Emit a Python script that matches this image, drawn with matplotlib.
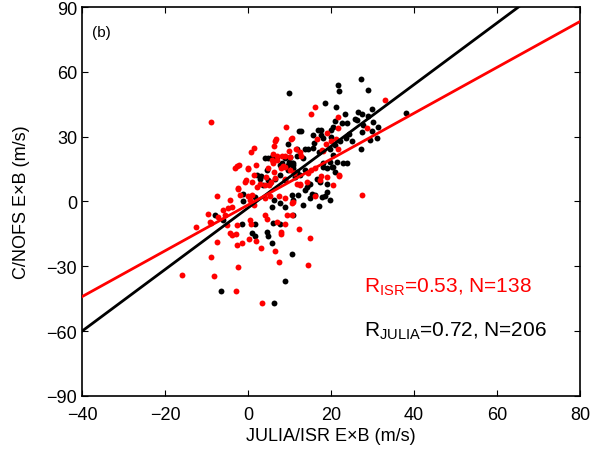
import numpy as np
import matplotlib
matplotlib.use('Agg')
from matplotlib import pyplot as plt

plt.rcParams['font.family'] = ['Liberation Sans', 'DejaVu Sans']
plt.rcParams['mathtext.fontset'] = 'custom'
plt.rcParams['mathtext.rm'] = 'Liberation Sans'

# JULIA points (x = JULIA E×B, y = C/NOFS E×B), m/s
julia = [
    (9.8, 50), (9.7, 26.4), (3.2, 11.7), (3.0, 10.2), (4.0, 19.9), (4.8, 19.9), (6.9, 20.7),
    (4.7, 14.5), (4.8, 10.0), (7.7, 16.8), (11.7, 24.5), (12.4, 32.7), (9.8, 18.4), (10.9, 17.6),
    (9.7, 14.5), (10.8, 15.3), (11.3, 11.4), (7.7, 12.2), (5.3, 8.5), (3.5, 7.5),
    (27.2, 56.5), (21.8, 53.8), (22.0, 50.9), (28.9, 51.5), (18.6, 45.7), (21.2, 43.7), (30.0, 42.6),
    (38.1, 41.1), (26.6, 41.3), (27.5, 40.4), (25.7, 38.4), (23.4, 40.7), (23.9, 36.1), (21.0, 37.2),
    (29.0, 39.5), (22.6, 36.3), (20.6, 34.7), (20.0, 33.0), (26.2, 37.5), (27.6, 35.3), (30.2, 36.6),
    (31.4, 34.4), (29.8, 32.6), (27.4, 32.1), (31.2, 29.5), (29.4, 28.4), (27.2, 24.5), (24.3, 31.3),
    (23.5, 29.2), (25.0, 28.2), (12.8, 32.5), (15.6, 30.7), (16.9, 32.9), (17.7, 33.0), (17.7, 30.7),
    (18.1, 29.2), (20.1, 29.9), (22.2, 27.9), (14.5, 24.5), (15.7, 24.9), (15.9, 26.9), (13.7, 24.1),
    (17.2, 23.0), (19.8, 24.5), (21.0, 26.1), (20.6, 21.4), (11.7, 21.2), (13.3, 19.9), (10.9, 16.8),
    (18.1, 17.6), (19.0, 15.3), (20.2, 16.1), (21.0, 13.7), (23.8, 17.6), (11.7, 13.7), (12.5, 12.2),
    (13.7, 14.5), (16.6, 10.6), (14.9, 8.3), (17.3, 9.1), (19.0, 8.3),
    (5.7, 20.4), (8.9, 19.9), (10.1, 20.7), (8.1, 17.6), (9.6, 16.8), (10.5, 17.6), (6.5, 10.6),
    (8.8, 9.9), (2.1, 12.2), (-1.1, 3.7), (1.7, 2.2), (-1.1, 0.1), (6.3, 0.6), (7.7, -0.9),
    (5.7, -2.5), (8.9, -2.5), (6.1, -9.9), (4.5, -14), (1.7, -10.2), (0.9, -14.8), (-1.5, -10.2),
    (-8, -6.3), (-6, -8.7), (7.7, -10.2),
    (-6.6, -41.5), (1.8, -15.9), (4.9, -15.9), (5.9, -19.4), (6.2, -46.8), (8.8, -36.9), (10.6, -24.4),
    (19.8, 0.9), (17.2, -2.2), (18.6, 2.5), (17.9, 2.2), (19.0, 4.6), (13.3, -1.7), (14.9, 1.4),
    (16.1, 2.9), (13.7, 5.2), (15.4, 3.7), (12.1, 2.9), (10.5, 2.9), (10.9, 0.6), (14.1, 6.8),
    (14.8, 8.3), (10.9, -6.3), (18.1, 16.1), (20.6, 16.1), (21.4, 18.4), (23.0, 17.6), (19.8, 18.4),
]

# ISR points
isr = [
    (-9.0, 36.9), (9.1, 34.7), (10.4, 29.0), (6.7, 28.7), (6.5, 27.8), (6.2, 25.5), (1.4, 24.9),
    (0.8, 22.7), (10.0, 23.3), (-2.7, 16.3), (-2.2, 16.7), (-3.2, 15.3), (0.0, 15.6), (-0.1, 15.0),
    (1.9, 16.7), (-0.6, 9.9), (-2.4, 6.3), (1.4, 12.2), (6.0, 22.2), (5.8, 19.0), (6.3, 13.7),
    (6.6, 11.0), (8.0, 15.6), (9.0, 21.1), (10.2, 20.5), (8.5, 16.5), (11.1, 13.0), (8.8, 10.2),
    (4.0, 7.5), (5.0, 7.5),
    (16.1, 43.7), (15.2, 40.4), (33.1, 47.1), (21.6, 39.2), (21.8, 34.1), (28.6, 34.1), (19.0, 31.8),
    (16.7, 28.8), (19.9, 27.9), (21.1, 28.8), (10.5, 29.2), (17.8, 23.8), (18.1, 23.3), (18.8, 26.4),
    (21.8, 24.1), (11.6, 24.1), (12.5, 23.0), (12.8, 21.2), (15.1, 14.5), (16.1, 15.3), (14.5, 13.0),
    (17.5, 11.9), (19.1, 11.3), (22.0, 12.2), (20.6, 7.5), (11.0, 13.0), (12.5, 8.3), (14.1, 9.1),
    (6.9, 21.0), (8.3, 21.0), (6.1, 17.6), (6.9, 19.1), (8.9, 16.1), (10.1, 14.5), (4.9, 15.3),
    (4.3, 11.4), (5.5, 9.1), (-0.7, 9.1), (1.0, 8.8), (2.9, 8.3), (2.1, 6.8), (-2.5, 5.6),
    (-1.9, 2.9), (0.1, 2.5), (0.9, 2.9), (0.5, 0.6), (1.5, -1.7), (-7.5, 2.5), (-4.3, 0.6),
    (-3.9, -2.5), (4.1, 1.4), (5.3, 2.5), (7.5, 2.5), (8.8, 1.4), (10.5, -0.9), (9.3, -6.3),
    (4.1, -6.3), (4.5, -7.9), (6.9, -9.4), (0.5, -8.7), (0.7, -10.2), (-2.7, -11.0), (-4.3, -14.8),
    (-5.1, -11.0), (-9.2, -9.4), (-12.6, -11.7), (-5.5, -6.3), (-6.0, -4.0), (-4.7, -3.2),
    (8.9, -10.2), (8.0, -14.0),
    (-8.8, -25.9), (-8.2, -34.6), (-2.8, -41.5), (-2.5, -30.4), (-2.7, -20.2), (-1.5, -19.0),
    (0.2, -17.5), (1.9, -18.2), (3.1, -21.3), (6.5, -22.8), (7.5, -27.9), (3.3, -47.2),
    (-3.9, -15.6), (-3.0, -15.1), (-7.5, -18.7), (8.0, -15.1),
    (27.4, 2.9), (22.0, 12.0), (16.1, 2.5), (10.9, -0.2), (11.7, 8.3), (12.5, 7.5), (10.5, -6.3),
    (12.4, -12.5), (14.9, -17.0), (17.3, 9.9), (14.5, -29.6), (-15.8, -34.1), (-9.6, -5.6),
    (-9.0, -9.9), (-7.2, -7.1),
]

# linear fits: (slope, intercept)
fit_julia = (1.426, -2.96)
fit_isr = (1.061, -1.6)

label_isr = r'R$_{\rm ISR}$=0.53, N=138'
label_julia = r'R$_{\rm JULIA}$=0.72, N=206'

fig = plt.figure(figsize=(5.93, 4.52), dpi=100)
ax = fig.add_axes([0.1383, 0.1217, 0.8397, 0.8606])

jx, jy = np.array(julia).T
ix, iy = np.array(isr).T
ax.scatter(jx, jy, s=18, c='k', linewidths=0, zorder=2)
ax.scatter(ix, iy, s=18, c='r', linewidths=0, zorder=3)

xl = np.array([-40, 80])
ax.plot(xl, fit_julia[0] * xl + fit_julia[1], color='k', lw=2, zorder=4)
ax.plot(xl, fit_isr[0] * xl + fit_isr[1], color='r', lw=2, zorder=4)

ax.set_xlim(-40, 80)
ax.set_ylim(-90, 90)
ax.set_xticks(np.arange(-40, 81, 20))
ax.set_yticks(np.arange(-90, 91, 30))
ax.tick_params(direction='in', top=True, right=True, labelsize=13, length=4)
ax.tick_params(axis='x', pad=7)
for s in ax.spines.values():
    s.set_linewidth(1.2)

ax.set_xlabel('JULIA/ISR E×B (m/s)', fontsize=13, labelpad=3)
ax.set_ylabel('C/NOFS E×B (m/s)', fontsize=13, labelpad=12)

ax.text(0.02, 0.955, '(b)', transform=ax.transAxes, fontsize=11, va='top')
ax.text(0.566, 0.27, label_isr, transform=ax.transAxes, fontsize=15, color='r')
ax.text(0.566, 0.155, label_julia, transform=ax.transAxes, fontsize=15, color='k')

fig.savefig('out.png', dpi=100)
